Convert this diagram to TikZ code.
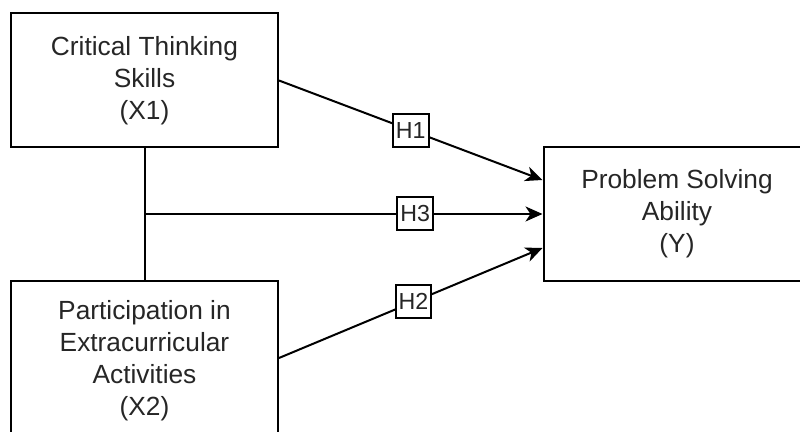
\documentclass[tikz,border=0pt]{standalone}
\usepackage{fontspec}
\setmainfont{Liberation Sans}
\usetikzlibrary{arrows.meta,positioning,calc}

\begin{document}
\begin{tikzpicture}[
    x=0.5pt, y=-0.5pt,
    var/.style={rectangle,draw=black,line width=1pt,
        minimum width=133.5pt,minimum height=67pt,
        align=center,text=black!85,
        font=\fontsize{13.15}{16}\selectfont},
    hyp/.style={rectangle,draw=black,fill=white,line width=1pt,
        inner xsep=1.5pt,inner ysep=0pt,minimum height=16.5pt,
        text=black!85,font=\fontsize{11.6}{13}\selectfont},
    link/.style={line width=1pt,black},
    >={Stealth[length=8.5pt,width=7.5pt,inset=2.5pt]},
    ]
    \clip (0,0) rectangle (800,432);
    % variables
    \node[var] (x1) at (144.5,80.5) {Critical Thinking\\Skills\\(X1)};
    \node[var,minimum height=80pt] (x2) at (144.5,361)
        {Participation in\\Extracurricular\\Activities\\(X2)};
    \node[var] (y) at (677,214) {Problem Solving\\Ability\\(Y)};
    \coordinate (j) at (x1.south |- y.west);
    % paths
    \draw[link] (x1.south) -- (x2.north);
    \draw[link,->] (x1.east) -- ($(y.north west)!0.25!(y.south west)$)
        node[hyp,pos=0.5] {H1};
    \draw[link,->] (j) -- (y.west)
        node[hyp,pos=0.68] {H3};
    \draw[link,->] (x2.east |- 0,358) -- ($(y.north west)!0.75!(y.south west)$)
        node[hyp,pos=0.51] {H2};
\end{tikzpicture}
\end{document}
